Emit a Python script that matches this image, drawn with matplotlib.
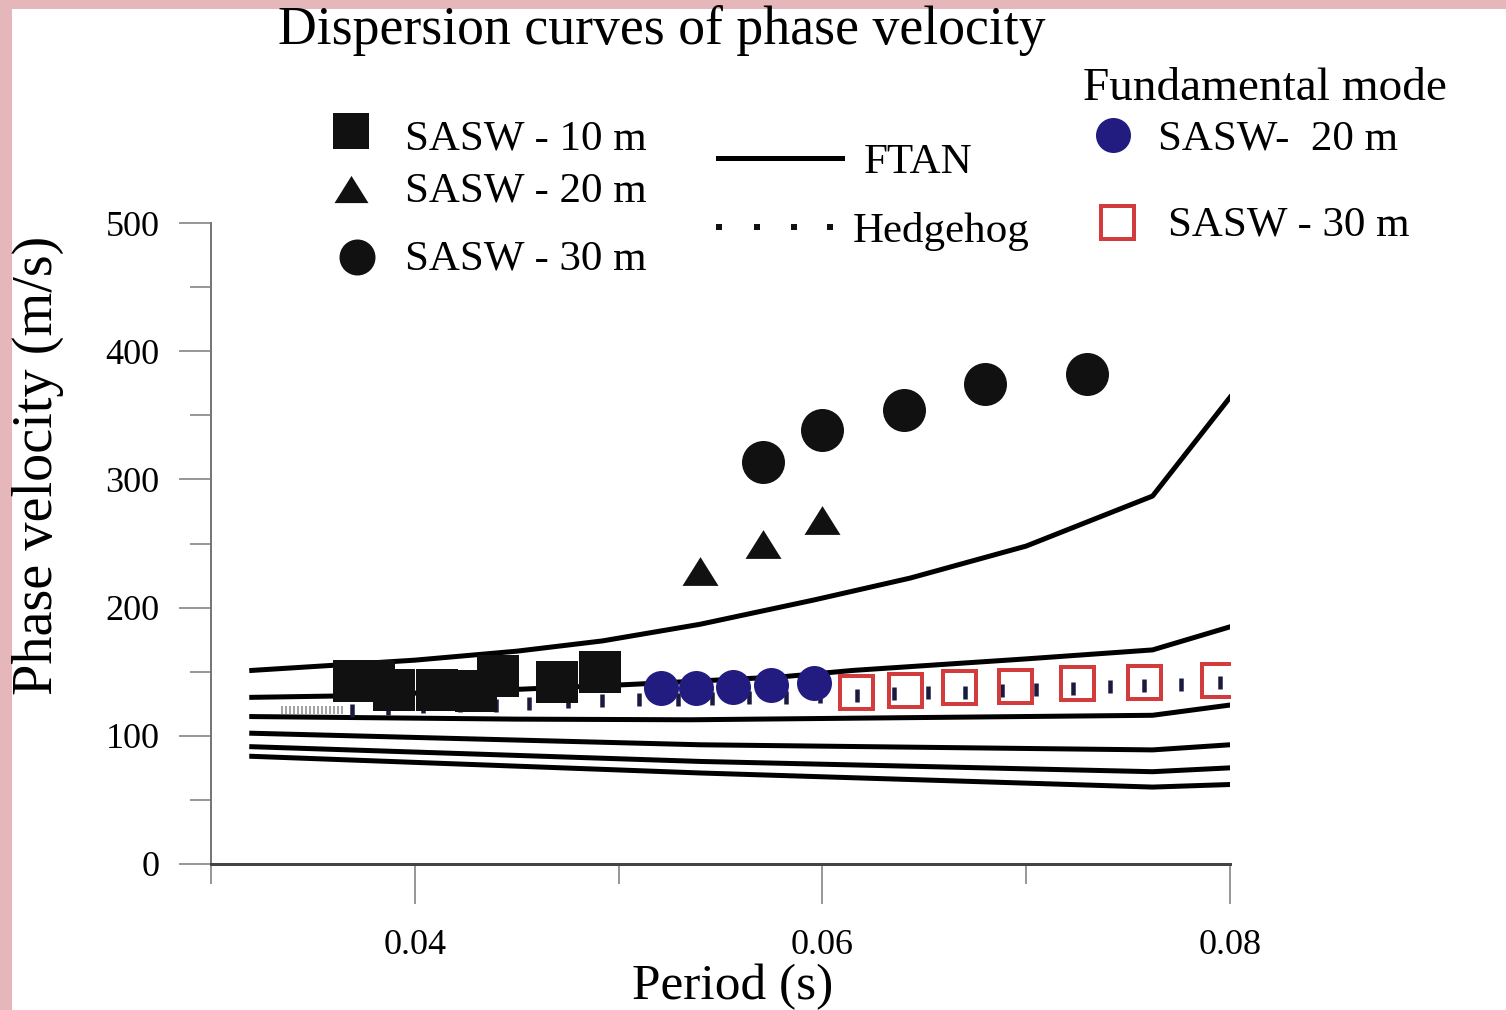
import matplotlib
matplotlib.use("Agg")
import matplotlib.pyplot as plt
from matplotlib.patches import Rectangle
from matplotlib.ticker import MultipleLocator

plt.rcParams['font.family'] = ['Liberation Serif', 'DejaVu Serif']

# FTAN dispersion curves (six branches)
ftan_1_t = [0.032, 0.036, 0.040, 0.045, 0.0492, 0.054, 0.0596, 0.0643, 0.070, 0.0762, 0.080]
ftan_1_v = [151, 155, 159, 166, 174, 187, 206, 223, 248, 287, 364]
ftan_2_t = [0.032, 0.036, 0.0447, 0.0505, 0.058, 0.0615, 0.070, 0.0762, 0.080]
ftan_2_v = [130, 131, 136, 140, 146, 151, 160, 167, 185]
ftan_3_t = [0.032, 0.045, 0.0535, 0.0762, 0.080]
ftan_3_v = [115, 113, 112.5, 116, 124]
ftan_4_t = [0.032, 0.054, 0.0762, 0.080]
ftan_4_v = [102, 93, 89, 93]
ftan_5_t = [0.032, 0.054, 0.0762, 0.080]
ftan_5_v = [91.5, 80, 72, 75]
ftan_6_t = [0.032, 0.054, 0.0762, 0.080]
ftan_6_v = [84, 71, 60, 62]

# Hedgehog picks
hh_t = [0.0369, 0.0387, 0.0404, 0.0422, 0.0440, 0.0456, 0.0475, 0.0492, 0.0510,
        0.0529, 0.0546, 0.0564, 0.0582, 0.0599, 0.0617, 0.0635, 0.0652, 0.0670,
        0.0688, 0.0705, 0.0723, 0.0741, 0.0758, 0.0776, 0.0795]
hh_v = [120, 122, 123, 124, 124, 125.6, 127, 128, 128.5,
        129, 129.5, 130, 130.5, 131, 132, 133, 134, 134.5,
        135.5, 136.5, 137.5, 138.5, 139.5, 140.5, 142]
hh_dense_t = [0.03347, 0.03367, 0.03387, 0.03406, 0.03426, 0.03445, 0.03465, 0.03485,
              0.03504, 0.03524, 0.03544, 0.03563, 0.03583, 0.03602, 0.03622, 0.03642]
hh_dense_v = [120] * 16

# SASW measurements
sasw10_t = [0.0370, 0.0380, 0.0390, 0.0411, 0.0430, 0.0441, 0.0470, 0.0491]
sasw10_v = [142.7, 142.7, 135.7, 135.7, 134.9, 146.6, 142.0, 149.8]
sasw20_t = [0.0540, 0.0571, 0.0600]
sasw20_v = [228.5, 249.6, 268.3]
sasw30_t = [0.0571, 0.0600, 0.0640, 0.0680, 0.0730]
sasw30_v = [313.6, 338.5, 354.1, 374.4, 382.2]

# fundamental mode
fund20_t = [0.0521, 0.0538, 0.0556, 0.0575, 0.0596]
fund20_v = [137.3, 137.3, 138.0, 139.6, 141.2]
fund30_t = [0.06164, 0.06405, 0.0667, 0.06945, 0.0725, 0.07578, 0.07941]
fund30_v = [134.2, 135.7, 138.1, 138.8, 141.2, 142.0, 143.5]

BLUE = '#221c80'
RED = '#d23c3c'
HH = '#1a1a40'
tri = [(0, 0.8), (-1, -0.8), (1, -0.8)]
PX = 0.72  # points per pixel at dpi 100

fig = plt.figure(figsize=(15.06, 10.10), dpi=100)
ax = fig.add_axes([211 / 1506, 146 / 1010, 1019 / 1506, 641 / 1010])

for t, v in [(ftan_1_t, ftan_1_v), (ftan_2_t, ftan_2_v), (ftan_3_t, ftan_3_v),
             (ftan_4_t, ftan_4_v), (ftan_5_t, ftan_5_v), (ftan_6_t, ftan_6_v)]:
    ax.plot(t, v, color='black', lw=5 * PX, zorder=2)

ax.plot(hh_dense_t, hh_dense_v, ls='none', marker='|', ms=8 * PX, mew=1.5 * PX,
        color='#888888', zorder=3)
ax.plot(hh_t, hh_v, ls='none', marker='|', ms=13 * PX, mew=4.5 * PX, color=HH, zorder=3)

ax.plot(sasw10_t, sasw10_v, ls='none', marker='s', ms=43 * PX, mew=0, color='#111111', zorder=4)
ax.plot(sasw20_t, sasw20_v, ls='none', marker=tri, ms=36 * PX, mew=0, color='#111111', zorder=4)
ax.plot(sasw30_t, sasw30_v, ls='none', marker='o', ms=43 * PX, mew=0, color='#111111', zorder=4)
ax.plot(fund20_t, fund20_v, ls='none', marker='o', ms=35 * PX, mew=0, color=BLUE, zorder=5)
ax.plot(fund30_t, fund30_v, ls='none', marker='s', ms=33 * PX, mew=4 * PX, mfc='none',
        mec=RED, zorder=5)

ax.set_xlim(0.03, 0.08)
ax.set_ylim(0, 500)
ax.set_facecolor('none')
for s in ['top', 'right']:
    ax.spines[s].set_visible(False)
ax.spines['left'].set_color('#777777')
ax.spines['left'].set_linewidth(2 * PX)
ax.spines['bottom'].set_color('#444444')
ax.spines['bottom'].set_linewidth(3 * PX)

ax.yaxis.set_major_locator(MultipleLocator(100))
ax.yaxis.set_minor_locator(MultipleLocator(50))
ax.set_xticks([0.04, 0.06, 0.08])
ax.set_xticklabels(['0.04', '0.06', '0.08'])
ax.set_xticks([0.03, 0.05, 0.07], minor=True)
ax.tick_params(axis='x', which='major', length=40 * PX, width=1.5 * PX, color='#777777',
               labelsize=26, pad=18)
ax.tick_params(axis='x', which='minor', length=20 * PX, width=1.5 * PX, color='#777777')
ax.tick_params(axis='y', which='major', length=32 * PX, width=1.5 * PX, color='#777777',
               labelsize=26, pad=14)
ax.tick_params(axis='y', which='minor', length=21 * PX, width=1.5 * PX, color='#777777')

# overlay in pixel coordinates for titles, labels, legend and frame
ov = fig.add_axes([0, 0, 1, 1], zorder=10)
ov.set_xlim(0, 1506)
ov.set_ylim(1010, 0)
ov.axis('off')
ov.set_facecolor('none')

ov.add_patch(Rectangle((0, 0), 12, 1010, color='#e5b7bb', lw=0))
ov.add_patch(Rectangle((0, 0), 1506, 9, color='#e5b7bb', lw=0))

ov.text(662, 31, 'Dispersion curves of phase velocity', fontsize=38.7, ha='center', va='center')
ov.text(733, 987, 'Period (s)', fontsize=37, ha='center', va='center')
ov.text(38, 465, 'Phase velocity (m/s)', fontsize=40.5, ha='center', va='center', rotation=90)

# legend: SASW groups
ov.plot([351], [131], ls='none', marker='s', ms=36 * PX, mew=0, color='#111111')
ov.plot([351], [189], ls='none', marker=tri, ms=34 * PX, mew=0, color='#111111')
ov.plot([357], [257], ls='none', marker='o', ms=36 * PX, mew=0, color='#111111')
ov.text(405, 150, 'SASW - 10 m', fontsize=31, ha='left', va='baseline')
ov.text(405, 202, 'SASW - 20 m', fontsize=31, ha='left', va='baseline')
ov.text(405, 270, 'SASW - 30 m', fontsize=31, ha='left', va='baseline')

# legend: FTAN / Hedgehog
ov.plot([718, 842], [158, 158], color='black', lw=5 * PX)
ov.plot([719, 757, 794, 830], [227, 227, 227, 227], ls='none', marker='s', ms=6 * PX,
        mew=0, color='#111111')
ov.text(864, 173, 'FTAN', fontsize=31, ha='left', va='baseline')
ov.text(853, 242, 'Hedgehog', fontsize=31, ha='left', va='baseline')

# legend: fundamental mode
ov.text(1083, 100, 'Fundamental mode', fontsize=34, ha='left', va='baseline')
ov.plot([1113], [135], ls='none', marker='o', ms=35 * PX, mew=0, color=BLUE)
ov.plot([1117], [222], ls='none', marker='s', ms=33 * PX, mew=4 * PX, mfc='none', mec=RED)
ov.text(1158, 149, 'SASW-  20 m', fontsize=31, ha='left', va='baseline')
ov.text(1168, 236, 'SASW - 30 m', fontsize=31, ha='left', va='baseline')

fig.savefig('out.png', dpi=100)
